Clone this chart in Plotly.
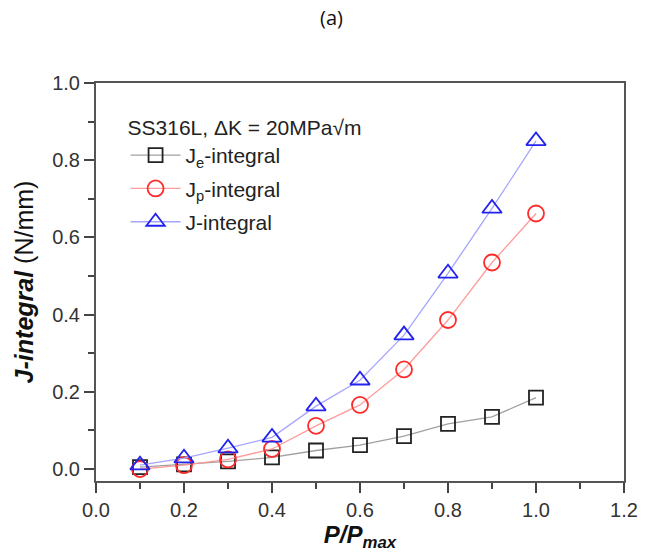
import plotly.graph_objects as go

x = [0.1, 0.2, 0.3, 0.4, 0.5, 0.6, 0.7, 0.8, 0.9, 1.0]
je = [0.005, 0.012, 0.020, 0.030, 0.048, 0.062, 0.085, 0.117, 0.135, 0.185]
jp = [0.000, 0.010, 0.025, 0.052, 0.112, 0.166, 0.258, 0.386, 0.535, 0.662]
jt = [0.010, 0.028, 0.054, 0.082, 0.163, 0.230, 0.347, 0.507, 0.675, 0.850]
names = ["J<sub>e</sub>-integral", "J<sub>p</sub>-integral", "J-integral"]

FONT = "Liberation Sans, Arial, sans-serif"

fig = go.Figure()
specs = [
    (je, names[0], "square-open", 14, "#222222", "rgba(150,150,150,0.9)"),
    (jp, names[1], "circle-open", 16, "#ff2a2a", "rgba(255,150,150,0.95)"),
    (jt, names[2], "triangle-up-open", 17, "#2323f0", "rgba(160,160,255,0.95)"),
]
for i, (ys, nm, sym, sz, mc, lc) in enumerate(specs):
    fig.add_trace(go.Scatter(
        x=x, y=ys, name=nm, mode="lines+markers", legendgroup=f"g{i}",
        line=dict(color=lc, width=1.3),
        marker=dict(symbol=sym, size=sz, color=mc, line=dict(width=1.8, color=mc)),
    ))

axis_common = dict(
    showline=True, linecolor="#555555", linewidth=2, mirror=True,
    ticks="outside", ticklen=10, tickwidth=1.5, tickcolor="#444444",
    showgrid=False, zeroline=False,
    tickfont=dict(family=FONT, size=20, color="#333333"),
)

fig.update_layout(
    width=650, height=557,
    margin=dict(l=96, r=18, t=83, b=76),
    paper_bgcolor="white", plot_bgcolor="white",
    title=dict(text="(a)", x=0.51, xanchor="center", y=0.968, yanchor="middle",
               font=dict(family="Open Sans, sans-serif", size=20, color="#111111")),
    xaxis=dict(range=[0, 1.2], dtick=0.2, tickformat=".1f",
               minor=dict(dtick=0.1, ticks="outside", ticklen=6, tickcolor="#444444", tickwidth=1.5),
               title=dict(text="<b><i>P/P<sub>max</sub></i></b>", standoff=0,
                          font=dict(family=FONT, size=24, color="#111111")),
               **axis_common),
    yaxis=dict(range=[-0.031, 1.0], dtick=0.2, tickformat=".1f",
               minor=dict(dtick=0.1, ticks="outside", ticklen=6, tickcolor="#444444", tickwidth=1.5),
               title=dict(text="<b><i>J-integral</i></b> (N/mm)", standoff=11,
                          font=dict(family=FONT, size=25, color="#111111")),
               **axis_common),
    legend=dict(
        x=0.056, y=0.938, xanchor="left", yanchor="top",
        bgcolor="rgba(0,0,0,0)",
        font=dict(family=FONT, size=21, color="#222222"),
        title=dict(text="SS316L, ΔK = 20MPa√m", font=dict(family=FONT, size=21, color="#222222")),
        itemwidth=50, tracegroupgap=3,
    ),
    showlegend=True,
)

fig.write_html("out.html")
